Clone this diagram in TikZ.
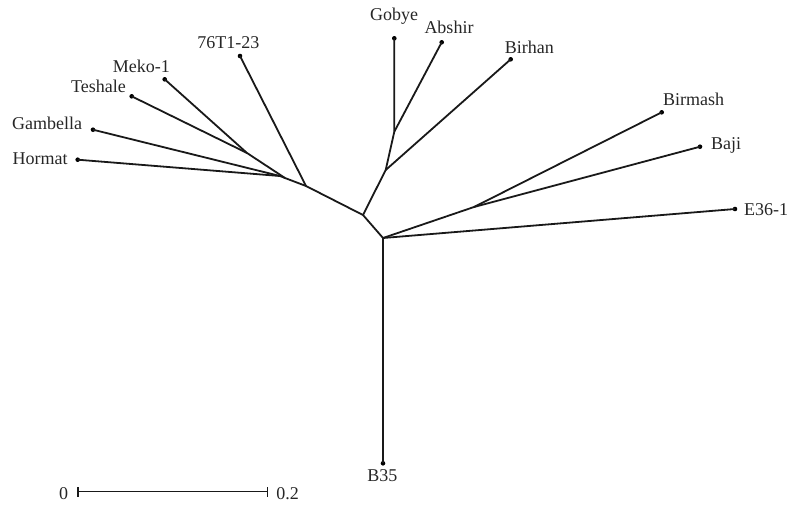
\documentclass[tikz,border=0pt]{standalone}
\usepackage{fontspec}
\setmainfont{Liberation Serif}
\begin{document}
\begin{tikzpicture}[x=1pt,y=-1pt,
  branch/.style={line width=1.8pt,line join=round,color=black!90},
  leaf/.style={circle,fill=black,inner sep=0pt,minimum size=4.6pt},
  lab/.style={inner sep=0pt,font=\fontsize{18}{20}\selectfont,text=black!85}]
\useasboundingbox (0,0) rectangle (788,504);
% leaves
\node[leaf] (hormat) at (77.7,159.7) {};
\node[leaf] (gambella) at (93,129.7) {};
\node[leaf] (teshale) at (131.7,96.3) {};
\node[leaf] (meko) at (164.7,79.3) {};
\node[leaf] (t76) at (240,56) {};
\node[leaf] (gobye) at (394.3,38.3) {};
\node[leaf] (abshir) at (441.7,42.3) {};
\node[leaf] (birhan) at (510.7,59.3) {};
\node[leaf] (birmash) at (661.7,112.3) {};
\node[leaf] (baji) at (700,146.7) {};
\node[leaf] (e36) at (735,209) {};
\node[leaf] (b35) at (383,463.3) {};
% internal nodes
\coordinate (n1) at (280,176);
\coordinate (n2) at (247,153);
\coordinate (n3) at (285,178);
\coordinate (n4) at (306,186);
\coordinate (n5) at (363,215);
\coordinate (root) at (383,238);
\coordinate (nga) at (394.3,131.7);
\coordinate (nbi) at (385.7,170);
\coordinate (nbb) at (474,207);
% branches
\draw[branch] (hormat.center) -- (n1) -- (n3);
\draw[branch] (gambella.center) -- (n1);
\draw[branch] (teshale.center) -- (n2) -- (n3);
\draw[branch] (meko.center) -- (n2);
\draw[branch] (n3) -- (n4) -- (n5) -- (root);
\draw[branch] (t76.center) -- (n4);
\draw[branch] (gobye.center) -- (nga) -- (nbi) -- (n5);
\draw[branch] (abshir.center) -- (nga);
\draw[branch] (birhan.center) -- (nbi);
\draw[branch] (birmash.center) -- (nbb) -- (root);
\draw[branch] (baji.center) -- (nbb);
\draw[branch] (e36.center) -- (root);
\draw[branch] (b35.center) -- (root);
% labels
\node[lab,anchor=base east] (lhormat) at (67.7,164.7) {Hormat};
\node[lab,anchor=base east] (lgambella) at (82.3,129.3) {Gambella};
\node[lab,anchor=base east] (lteshale) at (126,92.7) {Teshale};
\node[lab,anchor=base east] (lmeko) at (170,72) {Meko-1};
\node[lab,anchor=base] (lt76) at (228.3,48) {76T1-23};
\node[lab,anchor=base] (lgobye) at (394,20) {Gobye};
\node[lab,anchor=base] (labshir) at (449,33.3) {Abshir};
\node[lab,anchor=base] (lbirhan) at (529.3,53.3) {Birhan};
\node[lab,anchor=base] (lbirmash) at (693.5,105) {Birmash};
\node[lab,anchor=base west] (lbaji) at (711,149.3) {Baji};
\node[lab,anchor=base west] (le36) at (744,215) {E36-1};
\node[lab,anchor=base] (lb35) at (382.3,481.7) {B35};
% scale bar
\coordinate (s0) at (78,491.7);
\coordinate (s1) at (267.7,491.7);
\draw[branch,line width=1.5pt] (s0) -- (s1);
\draw[branch,line width=1.5pt] ([yshift=-5pt]s0) -- ([yshift=5pt]s0);
\draw[branch,line width=1.5pt] ([yshift=-5pt]s1) -- ([yshift=5pt]s1);
\node[lab,anchor=base] (lzero) at (63.5,499.3) {0};
\node[lab,anchor=base] (ltwo) at (287.5,499.3) {0.2};
\end{tikzpicture}
\end{document}
